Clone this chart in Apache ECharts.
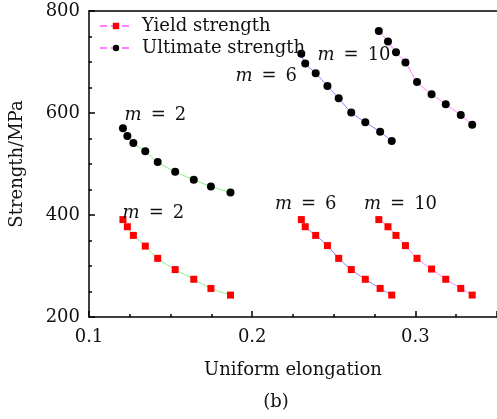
<!DOCTYPE html>
<html>
<head>
<meta charset="utf-8">
<script src="https://cdn.jsdelivr.net/npm/echarts@6/dist/echarts.min.js"></script>
<style>
  html, body { margin: 0; padding: 0; background: #fff; }
  #chart { width: 497px; height: 419px; }
</style>
</head>
<body>
<div id="chart"></div>
<script>
// elongation (x) and strength (y)
const elongM2 = [0.1208, 0.1235, 0.1272, 0.1345, 0.1421, 0.1528, 0.1642, 0.1747, 0.1867];
const elongM6 = [0.2301, 0.2325, 0.2389, 0.2461, 0.2530, 0.2607, 0.2693, 0.2784, 0.2855];
const elongM10 = [0.2776, 0.2832, 0.2881, 0.2939, 0.3010, 0.3099, 0.3186, 0.3278, 0.3348];

const yieldM2 = [391, 377, 360, 339, 315, 293, 274, 256, 243];
const yieldM6 = [391, 377, 360, 340, 315, 293, 274, 256, 243];
const yieldM10 = [391, 377, 360, 340, 315, 294, 274, 256, 243];

const ultM2 = [570, 555, 541, 525, 504, 485, 469, 456, 444];
const ultM6 = [716, 697, 678, 653, 629, 601, 582, 563, 545];
const ultM10 = [761, 740, 719, 699, 661, 637, 617, 596, 577];

const xTicks = [0.1, 0.2, 0.3];
const yTicks = [200, 400, 600, 800];

// annotations: [x, y, m]
const notes = [
  [0.1218, 596, '2'],
  [0.1206, 404, '2'],
  [0.1897, 671, '6'],
  [0.2400, 714, '10'],
  [0.2139, 420, '6'],
  [0.2685, 420, '10']
];

const font = 'DejaVu Serif';
const fs = 18;
const zip = (xs, ys) => xs.map((x, i) => [x, ys[i]]);

function series(name, xs, ys, color, square) {
  return {
    name: name,
    type: 'line',
    data: zip(xs, ys),
    smooth: 0.3,
    symbol: square ? 'rect' : 'circle',
    symbolSize: square ? 7 : 8,
    itemStyle: { color: square ? '#ff0000' : '#000000' },
    lineStyle: { color: color, width: 1 },
    z: 3
  };
}

const chart = echarts.init(document.getElementById('chart'));
const axisText = { fontFamily: font, fontSize: fs, color: '#111' };

chart.setOption({
  animation: false,
  grid: { left: 89, top: 11, right: -4.5, bottom: 102 },
  legend: {
    orient: 'vertical',
    left: 99,
    top: 15,
    padding: 0,
    itemWidth: 32,
    itemHeight: 8,
    itemGap: 0,
    textStyle: { fontFamily: font, fontSize: fs, color: '#111', lineHeight: 22, padding: [0, 0, 0, 5] },
    data: [
      { name: 'Yield strength', lineStyle: { type: [7, 4], color: '#ff80ff' } },
      { name: 'Ultimate strength', lineStyle: { type: [7, 4], color: '#ff80ff' } }
    ]
  },
  xAxis: [{
    type: 'value',
    min: 0.1,
    max: 0.35,
    interval: 0.1,
    name: 'Uniform elongation',
    nameLocation: 'middle',
    nameGap: 44,
    nameTextStyle: axisText,
    splitLine: { show: false },
    axisLine: { lineStyle: { color: '#000', width: 1.5 } },
    axisTick: { inside: true, length: 6, lineStyle: { color: '#000', width: 1.5 } },
    minorTick: { show: true, splitNumber: 4, length: 3, lineStyle: { color: '#000', width: 1.5 } },
    axisLabel: Object.assign({ margin: 11, showMaxLabel: false,
      formatter: v => xTicks.includes(Math.round(v * 10) / 10) ? v.toFixed(1) : '' }, axisText)
  }, {
    type: 'value',
    position: 'top',
    min: 0.1,
    max: 0.35,
    axisLine: { lineStyle: { color: '#000', width: 1.5 } },
    axisTick: { show: false },
    axisLabel: { show: false },
    splitLine: { show: false }
  }],
  yAxis: {
    type: 'value',
    min: yTicks[0],
    max: yTicks[yTicks.length - 1],
    interval: 200,
    name: 'Strength/MPa',
    nameLocation: 'middle',
    nameGap: 63,
    nameTextStyle: axisText,
    splitLine: { show: false },
    axisLine: { lineStyle: { color: '#000', width: 1.5 } },
    axisTick: { inside: true, length: 6, lineStyle: { color: '#000', width: 1.5 } },
    minorTick: { show: true, splitNumber: 4, length: 3, lineStyle: { color: '#000', width: 1.5 } },
    axisLabel: Object.assign({ margin: 9 }, axisText)
  },
  series: [
    series('Yield strength', elongM10, yieldM10, '#ff80ff', true),
    series('Ultimate strength', elongM10, ultM10, '#ff80ff', false),
    series('y2', elongM2, yieldM2, '#80f080', true),
    series('u2', elongM2, ultM2, '#80f080', false),
    series('y6', elongM6, yieldM6, '#8080ff', true),
    series('u6', elongM6, ultM6, '#8080ff', false)
  ]
});

const graphics = notes.map(n => {
  const p = chart.convertToPixel({ gridIndex: 0 }, [n[0], n[1]]);
  return {
    type: 'text',
    x: p[0],
    y: p[1],
    z: 10,
    style: {
      text: '{i|m}\u2002=\u2002' + n[2],
      font: fs + 'px "' + font + '"',
      fill: '#111',
      verticalAlign: 'middle',
      rich: { i: { fontFamily: font, fontStyle: 'italic', fontSize: fs, fill: '#111' } }
    }
  };
});
graphics.push({
  type: 'text',
  x: 276,
  y: 402,
  style: { text: '(b)', font: fs + 'px "' + font + '"', fill: '#111', align: 'center', verticalAlign: 'middle' }
});
chart.setOption({ graphic: graphics });
</script>
</body>
</html>
